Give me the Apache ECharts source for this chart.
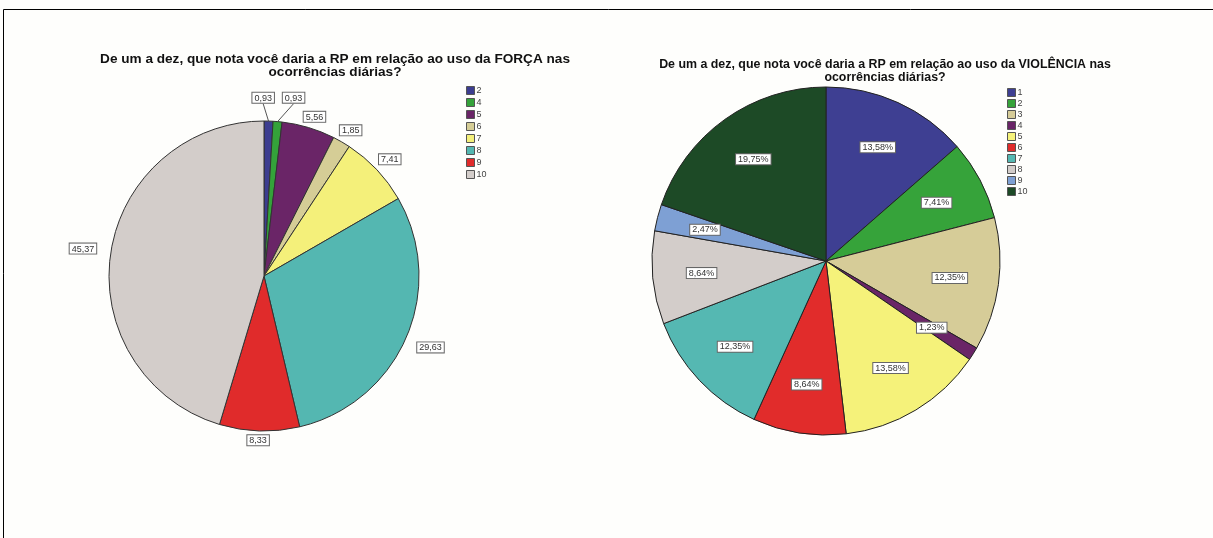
<!DOCTYPE html>
<html>
<head>
<meta charset="utf-8">
<script src="https://cdn.jsdelivr.net/npm/echarts@6/dist/echarts.min.js"></script>
<style>
html,body{margin:0;padding:0;background:#fefefc;}
#chart{width:1213px;height:538px;}
</style>
</head>
<body>
<div id="chart"></div>
<script>
const forcaTitle = 'De um a dez, que nota você daria a RP em relação ao uso da FORÇA nas\nocorrências diárias?';
const violTitle = 'De um a dez, que nota você daria a RP em relação ao uso da VIOLÊNCIA nas\nocorrências diárias?';
const forcaCategories = ['2','4','5','6','7','8','9','10'];
const forcaValues = [0.93, 0.93, 5.56, 1.85, 7.41, 29.63, 8.33, 45.37];
const forcaColors = ['#3c3d90','#34a23a','#6a2567','#d5cd96','#f4f07a','#54b7b1','#e02b2b','#d3cdca'];
const violCategories = ['1','2','3','4','5','6','7','8','9','10'];
const violValues = [13.58, 7.41, 12.35, 1.23, 13.58, 8.64, 12.35, 8.64, 2.47, 19.75];
const violColors = ['#3e3f92','#36a33a','#d6cc98','#6a2567','#f5f27a','#e12c2b','#55b8b2','#d3cdca','#7ea0d4','#1d4a26'];

const forcaCenter = [264, 276];
const violCenter = [826, 261];

const fmt = v => v.toFixed(2).replace('.', ',');

const boxLabel = {
  fontFamily: 'Arial, Liberation Sans, sans-serif',
  fontSize: 9,
  color: '#333',
  backgroundColor: '#fff',
  borderColor: '#666',
  borderWidth: 1,
  padding: [1, 2, 0, 2]
};

const forcaData = forcaCategories.map((c, i) => ({
  name: 'F' + c,
  value: forcaValues[i],
  itemStyle: { color: forcaColors[i] },
  labelLine: { show: forcaValues[i] < 1 }
}));
const violData = violCategories.map((c, i) => ({
  name: 'V' + c,
  value: violValues[i],
  itemStyle: { color: violColors[i] }
}));

const chart = echarts.init(document.getElementById('chart'), null, { renderer: 'canvas' });

const legendCommon = {
  orient: 'vertical',
  icon: 'rect',
  itemWidth: 8,
  itemHeight: 8,
  itemGap: 3,
  padding: 0,
  selectedMode: false,
  itemStyle: { borderColor: '#555', borderWidth: 1 },
  textStyle: { fontFamily: 'Arial, Liberation Sans, sans-serif', fontSize: 9, color: '#444', padding: [0,0,0,-3] },
  formatter: n => n.slice(1)
};

// place outside labels just beyond the rim, along the radial direction from the centre
function radialLayout(params) {
  const pts = params.labelLinePoints;
  if (!pts) return {};
  const i = params.dataIndex;
  const p0 = pts[0];
  let ux = p0[0] - forcaCenter[0], uy = p0[1] - forcaCenter[1];
  const len = Math.hypot(ux, uy) || 1;
  ux /= len; uy /= len;
  const w = params.labelRect.width, h = params.labelRect.height;
  const v = forcaValues[i];
  const tiny = v < 1;
  const gap = tiny ? 16 : (v > 20 ? 12 : (v > 8 ? 4 : 1));
  const d = Math.abs(ux) * w / 2 + Math.abs(uy) * h / 2 + gap;
  let dx = 0;
  if (tiny) {
    if (i > 0 && forcaValues[i - 1] < 1) dx = 15;
    else if (i < forcaValues.length - 1 && forcaValues[i + 1] < 1) dx = -5;
  } else if (v < 8) {
    dx = 4;
  }
  return {
    x: p0[0] + ux * d - w / 2 + dx,
    y: p0[1] + uy * d - h / 2,
    align: 'left',
    verticalAlign: 'top'
  };
}

chart.setOption({
  backgroundColor: '#fefefc',
  animation: false,
  title: [
    { text: forcaTitle, left: 330, top: 48, textAlign: 'center',
      textStyle: { fontFamily: 'Arial, Liberation Sans, sans-serif', fontSize: 13.6, fontWeight: 'bold', color: '#111', lineHeight: 13 } },
    { text: violTitle, left: 880, top: 53, textAlign: 'center',
      textStyle: { fontFamily: 'Arial, Liberation Sans, sans-serif', fontSize: 12.4, fontWeight: 'bold', color: '#111', lineHeight: 13 } }
  ],
  legend: [
    Object.assign({}, legendCommon, { left: 466, top: 86, data: forcaData.map(d => d.name) }),
    Object.assign({}, legendCommon, { left: 1007, top: 88, itemGap: 2, data: violData.map(d => d.name) })
  ],
  graphic: [
    { type: 'line', shape: { x1: 3.5, y1: 9.5, x2: 1213, y2: 9.5 }, style: { stroke: '#000', lineWidth: 1 } },
    { type: 'line', shape: { x1: 3.5, y1: 9.5, x2: 3.5, y2: 538 }, style: { stroke: '#000', lineWidth: 1 } }
  ],
  series: [
    {
      type: 'pie',
      center: forcaCenter,
      radius: [0, 155],
      startAngle: 90,
      clockwise: true,
      data: forcaData,
      itemStyle: { borderColor: '#333', borderWidth: 1 },
      label: Object.assign({ position: 'outside', formatter: p => fmt(p.value) }, boxLabel),
      labelLine: { show: true, length: 10, length2: 0, lineStyle: { color: '#555', width: 1 } },
      labelLayout: radialLayout,
      emphasis: { disabled: true }
    },
    {
      type: 'pie',
      center: violCenter,
      radius: [0, 174],
      startAngle: 90,
      clockwise: true,
      data: violData,
      itemStyle: { borderColor: '#222', borderWidth: 1 },
      label: { show: false },
      emphasis: { disabled: true }
    },
    {
      type: 'pie',
      center: violCenter,
      radius: [70, 174],
      startAngle: 90,
      clockwise: true,
      silent: true,
      legendHoverLink: false,
      data: violData.map(d => ({ name: d.name, value: d.value, itemStyle: { color: 'rgba(0,0,0,0)' } })),
      itemStyle: { borderWidth: 0 },
      label: Object.assign({ position: 'inside', formatter: p => fmt(p.value) + '%' }, boxLabel),
      labelLine: { show: false },
      emphasis: { disabled: true }
    }
  ]
});
</script>
</body>
</html>
